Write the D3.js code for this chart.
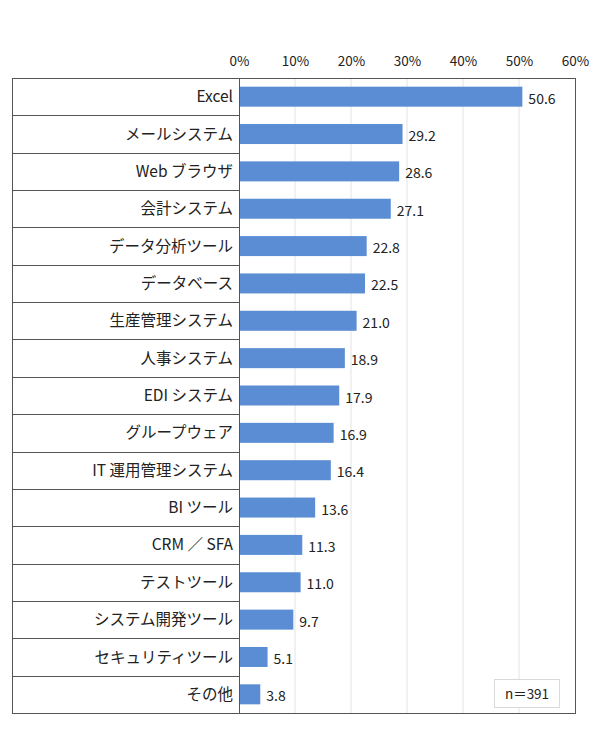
<!DOCTYPE html>
<html>
<head>
<meta charset="utf-8">
<script src="https://cdn.jsdelivr.net/npm/d3@7"></script>
<style>
    body { margin: 0; background: #fff; }
    text { font-family: "Noto Sans CJK JP", "Noto Sans", sans-serif; fill: #222; }
</style>
</head>
<body>
<div id="chartcontainer"></div>
<script>
// chart data
var categories = ["Excel", "メールシステム", "Web ブラウザ", "会計システム", "データ分析ツール",
    "データベース", "生産管理システム", "人事システム", "EDI システム", "グループウェア",
    "IT 運用管理システム", "BI ツール", "CRM ／ SFA", "テストツール", "システム開発ツール",
    "セキュリティツール", "その他"];
var values = [50.6, 29.2, 28.6, 27.1, 22.8, 22.5, 21.0, 18.9, 17.9, 16.9, 16.4, 13.6, 11.3, 11.0, 9.7, 5.1, 3.8];
var tickValues = [0, 10, 20, 30, 40, 50, 60];
var sampleNote = "n＝391";

var width = 590,
    height = 729,
    boxLeft = 12,
    plotLeft = 239,
    plotRight = 575,
    plotTop = 78,
    plotBottom = 713;

var svg = d3.select("#chartcontainer")
    .append("svg")
    .attr("width", width)
    .attr("height", height);

var x = d3.scaleLinear().domain([0, 60]).range([plotLeft, plotRight]);
var y = d3.scaleBand().domain(categories).range([plotTop, plotBottom]);
var barHeight = 20;

// vertical gridlines
svg.append("g").selectAll("line")
    .data(tickValues.slice(1, -1))
    .enter().append("line")
    .attr("x1", function (d) { return x(d); })
    .attr("x2", function (d) { return x(d); })
    .attr("y1", plotTop)
    .attr("y2", plotBottom)
    .style("stroke", "#e3e3e3")
    .style("stroke-width", 1);

// tick labels on top
var axis = d3.axisTop(x)
    .tickValues(tickValues)
    .tickSize(0)
    .tickPadding(0)
    .tickFormat(function (d) { return d + "%"; });

var axisG = svg.append("g")
    .attr("transform", "translate(0,66)")
    .call(axis);
axisG.select(".domain").remove();
axisG.selectAll("text")
    .style("font-size", "13.5px")
    .style("font-family", "'Noto Sans CJK JP', sans-serif")
    .attr("fill", "#333");

// row dividers in label column
svg.append("g").selectAll("line")
    .data(categories.slice(1))
    .enter().append("line")
    .attr("x1", boxLeft)
    .attr("x2", plotLeft)
    .attr("y1", function (d) { return Math.round(y(d)) + 0.5; })
    .attr("y2", function (d) { return Math.round(y(d)) + 0.5; })
    .style("stroke", "#555")
    .style("stroke-width", 1);

// bars
svg.append("g").selectAll("rect")
    .data(values)
    .enter().append("rect")
    .attr("x", x(0))
    .attr("y", function (d, i) { return y(categories[i]) + (y.bandwidth() - barHeight) / 2; })
    .attr("width", function (d) { return x(d) - x(0); })
    .attr("height", barHeight)
    .style("fill", "#5a8dd3");

// category labels
svg.append("g").selectAll("text")
    .data(categories)
    .enter().append("text")
    .attr("x", plotLeft - 6)
    .attr("y", function (d) { return y(d) + y.bandwidth() / 2; })
    .attr("dy", "0.36em")
    .attr("text-anchor", "end")
    .style("font-size", "15.5px")
    .text(function (d) { return d; });

// value labels
svg.append("g").selectAll("text")
    .data(values)
    .enter().append("text")
    .attr("x", function (d) { return x(d) + 6; })
    .attr("y", function (d, i) { return y(categories[i]) + y.bandwidth() / 2 + 2; })
    .attr("dy", "0.36em")
    .style("font-size", "14px")
    .text(function (d) { return d.toFixed(1); });

// axis line at 0
svg.append("line")
    .attr("x1", x(0) + 0.5).attr("x2", x(0) + 0.5)
    .attr("y1", plotTop).attr("y2", plotBottom)
    .style("stroke", "#555");

// outer frame
svg.append("rect")
    .attr("x", boxLeft + 0.5)
    .attr("y", plotTop + 0.5)
    .attr("width", plotRight - boxLeft)
    .attr("height", plotBottom - plotTop)
    .style("fill", "none")
    .style("stroke", "#555")
    .style("stroke-width", 1);

// sample size note
var note = svg.append("g").attr("transform", "translate(494,679)");
note.append("rect")
    .attr("x", 0.5).attr("y", 0.5)
    .attr("width", 65).attr("height", 28)
    .style("fill", "#fff")
    .style("stroke", "#d9d9d9");
note.append("text")
    .attr("x", 33).attr("y", 15)
    .attr("dy", "0.36em")
    .attr("text-anchor", "middle")
    .style("font-size", "13.5px")
    .text(sampleNote);
</script>
</body>
</html>
